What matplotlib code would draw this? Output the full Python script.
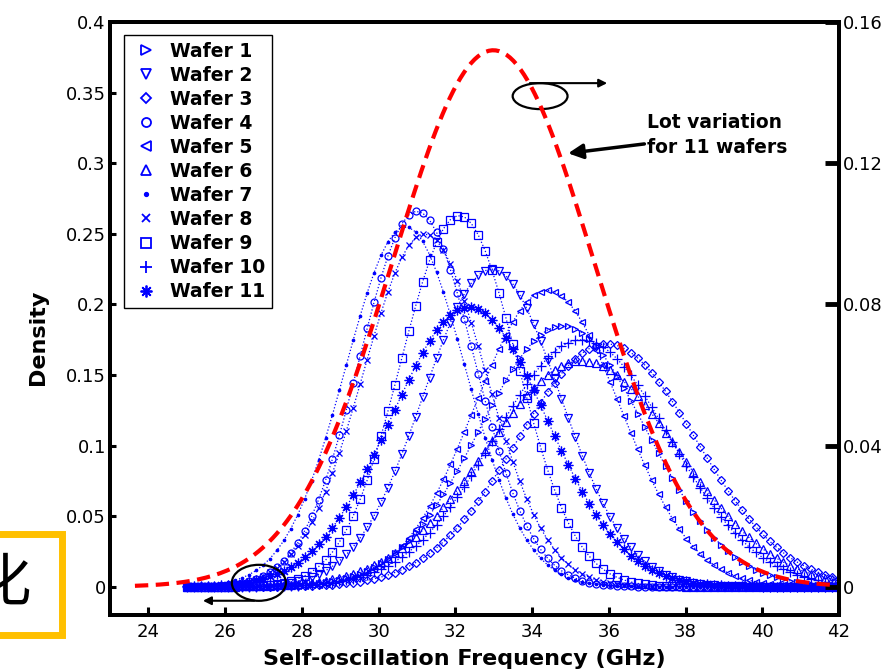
import numpy as np
import matplotlib.pyplot as plt
from matplotlib.lines import Line2D
from matplotlib.patches import Ellipse, Rectangle

# fitted density of every wafer (left axis)
wafer_names = ['Wafer 1', 'Wafer 2', 'Wafer 3', 'Wafer 4', 'Wafer 5', 'Wafer 6',
               'Wafer 7', 'Wafer 8', 'Wafer 9', 'Wafer 10', 'Wafer 11']
wafer_mean = [34.8, 32.95, 35.95, 31.0, 34.4, 35.3, 30.7, 31.2, 32.1, 35.3, 32.35]
wafer_peak = [0.185, 0.225, 0.172, 0.266, 0.210, 0.160, 0.255, 0.250, 0.263, 0.175, 0.198]

# lot variation for all 11 wafers (right axis)
lot_mean = 32.99
lot_peak = 0.152

x_ticks = [24, 26, 28, 30, 32, 34, 36, 38, 40, 42]
y_ticks = [0, 0.05, 0.1, 0.15, 0.2, 0.25, 0.3, 0.35, 0.4]
y_labels = ['0', '0.05', '0.1', '0.15', '0.2', '0.25', '0.3', '0.35', '0.4']
y2_ticks = [0, 0.04, 0.08, 0.12, 0.16]
y2_labels = ['0', '0.04', '0.08', '0.12', '0.16']

# matlab-like markers, (8, 2, 0) is the asterisk
markers = ['>', 'v', 'D', 'o', '<', '^', '.', 'x', 's', '+', (8, 2, 0)]
msizes = [5, 5.5, 4, 5, 5, 5.5, 3.5, 4.5, 5.5, 7, 7]
filled = [False, False, False, False, False, False, True, True, False, True, True]


def density(x, mean, peak):
    # normal pdf given its peak height
    sigma = 1.0 / (peak * np.sqrt(2 * np.pi))
    return peak * np.exp(-0.5 * ((x - mean) / sigma) ** 2)


fig = plt.figure(figsize=(8.88, 6.71), dpi=100)
ax = fig.add_axes([110 / 888, 56 / 671, 729 / 888, 593 / 671])

freq = np.linspace(25, 42, 95)
handles = []
for i in range(len(wafer_names)):
    fc = 'blue' if filled[i] else 'none'
    ax.plot(freq, density(freq, wafer_mean[i], wafer_peak[i]), color='blue',
            linestyle=':', lw=0.9, marker=markers[i], ms=msizes[i],
            mfc=fc, mec='blue', mew=0.9)
    handles.append(Line2D([], [], linestyle='none', marker=markers[i],
                          ms=msizes[i] + 1.5, mfc=fc, mec='blue', mew=1.3,
                          color='blue'))

ax.set_xlim(23, 42)
ax.set_ylim(-0.02, 0.4)
ax.set_xticks(x_ticks)
ax.set_yticks(y_ticks)
ax.set_yticklabels(y_labels)
ax.tick_params(axis='both', direction='in', labelsize=13, width=2.2)
ax.tick_params(axis='y', length=4.5, pad=3)
ax.tick_params(axis='x', length=6, pad=6)
for sp in ax.spines.values():
    sp.set_linewidth(2.8)

ax.set_xlabel('Self-oscillation Frequency (GHz)', fontsize=16, fontweight='bold')
ax.xaxis.set_label_coords(0.486, -0.058)
ax.set_ylabel('Density', fontsize=16, fontweight='bold')
ax.yaxis.set_label_coords(-0.085, 0.469)

leg = ax.legend(handles, wafer_names, loc='upper left',
                bbox_to_anchor=(0.0192, 0.978), borderaxespad=0,
                prop={'weight': 'bold', 'size': 13.5}, handlelength=1.6,
                handletextpad=0.5, labelspacing=0.27, borderpad=0.35,
                fancybox=False, framealpha=1)
leg.get_frame().set_edgecolor('black')
leg.get_frame().set_linewidth(1.0)

# right axis with the lot curve
ax2 = ax.twinx()
lot_x = np.linspace(23.65, 42, 200)
ax2.plot(lot_x, density(lot_x, lot_mean, lot_peak), color='red', lw=3,
         dashes=(3.2, 1.8))
ax2.set_ylim(-0.008, 0.16)
ax2.set_yticks(y2_ticks)
ax2.set_yticklabels(y2_labels)
ax2.tick_params(axis='y', direction='in', length=10, width=3.5, labelsize=13,
                pad=3)
for sp in ax2.spines.values():
    sp.set_linewidth(2.8)

# annotations (left axis coordinates)
ax.add_patch(Ellipse((34.21, 0.3475), 1.43, 0.0184, fill=False, lw=1.6,
                     edgecolor='black', zorder=5))
ax.annotate('', xy=(36.03, 0.3567), xytext=(33.87, 0.3567),
            arrowprops=dict(arrowstyle='-|>', color='black', lw=1.5,
                            mutation_scale=12), zorder=5)
ax.add_patch(Ellipse((26.88, 0.0028), 1.41, 0.0255, fill=False, lw=1.6,
                     edgecolor='black', zorder=5))
ax.annotate('', xy=(25.35, -0.0099), xytext=(26.83, -0.0099),
            arrowprops=dict(arrowstyle='-|>', color='black', lw=1.5,
                            mutation_scale=12), zorder=5)
ax.annotate('Lot variation\nfor 11 wafers', xy=(34.94, 0.307),
            xytext=(37.0, 0.32), fontsize=13.5, fontweight='bold',
            va='center', ha='left', linespacing=1.4,
            arrowprops=dict(arrowstyle='-|>', color='black', lw=2.5,
                            mutation_scale=22, shrinkA=0, shrinkB=0),
            zorder=5)

# yellow box at the left edge, the character is cut off as in the source
fig.patches.append(Rectangle((-20 / 888, 36.5 / 671), 81.5 / 888, 101 / 671,
                             transform=fig.transFigure, fill=False,
                             edgecolor='#FFC000', lw=5, zorder=10))
fig.text(2 / 888, 87 / 671, '化', fontsize=42, ha='center', va='center',
         family=['Noto Sans CJK SC', 'DejaVu Sans'], zorder=11)

fig.savefig('out.png', dpi=100)
